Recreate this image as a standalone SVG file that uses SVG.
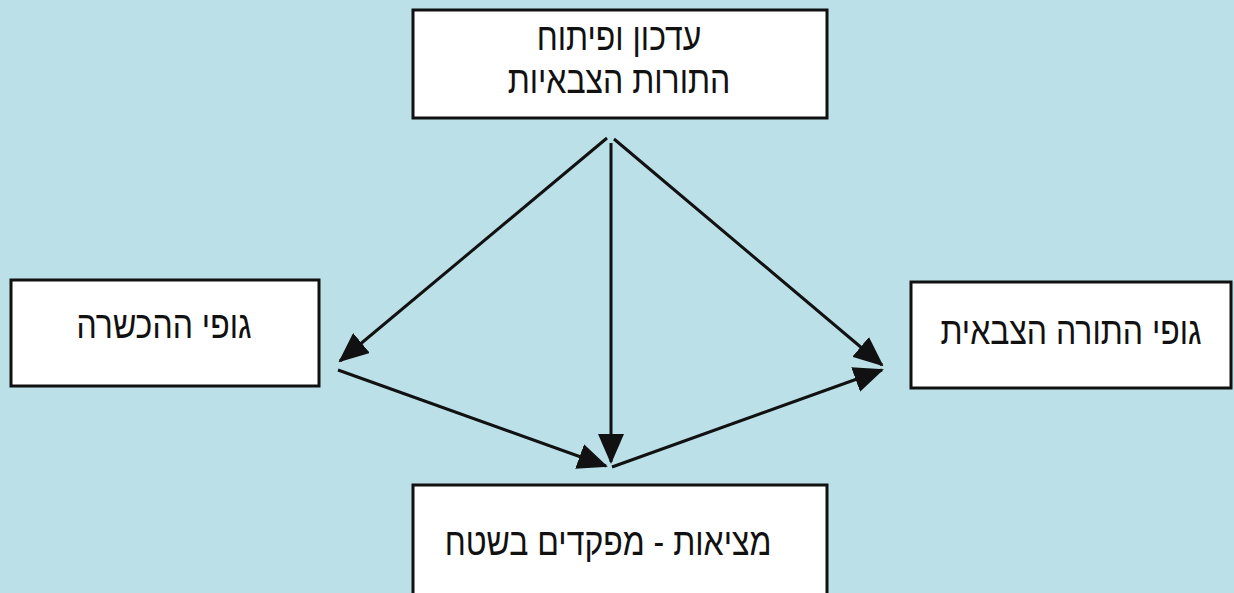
<svg xmlns="http://www.w3.org/2000/svg" width="1234" height="593" viewBox="0 0 1234 593">
<style>
.box{fill:#ffffff;stroke:#111;stroke-width:3}
.t{font-family:"Liberation Sans","DejaVu Sans",sans-serif;font-size:32px;fill:#111;text-anchor:middle}
.c{stroke:#111;stroke-width:3;fill:none;marker-end:url(#ah)}
</style>
<defs>
<marker id="ah" markerUnits="userSpaceOnUse" markerWidth="30" markerHeight="26" viewBox="0 0 30 26" refX="28" refY="13" orient="auto">
<path d="M0,0 L30,13 L0,26 Z" fill="#111"/>
</marker>
</defs>
<rect width="1234" height="593" fill="#bce0e8"/>
<g id="connectors">
<line class="c" x1="607" y1="138" x2="340" y2="361"/>
<line class="c" x1="611" y1="143" x2="611" y2="462"/>
<line class="c" x1="614" y1="139" x2="882" y2="365"/>
<line class="c" x1="338" y1="370" x2="606" y2="466"/>
<line class="c" x1="612" y1="467" x2="882" y2="370"/>
</g>
<g id="node-top">
<rect class="box" x="413" y="10" width="414" height="108"/>
<text class="t" transform="translate(619,50) scale(1,1.2)" direction="rtl">עדכון ופיתוח</text>
<text class="t" transform="translate(619,93) scale(1,1.2)" direction="rtl">התורות הצבאיות</text>
</g>
<g id="node-left">
<rect class="box" x="11" y="280" width="308" height="106"/>
<text class="t" transform="translate(164,338) scale(1,1.2)" direction="rtl">גופי ההכשרה</text>
</g>
<g id="node-right">
<rect class="box" x="911" y="282" width="320" height="106"/>
<text class="t" transform="translate(1071,344) scale(1,1.2)" direction="rtl">גופי התורה הצבאית</text>
</g>
<g id="node-bottom">
<rect class="box" x="413" y="485" width="414" height="115"/>
<text class="t" transform="translate(608,555) scale(1,1.2)" direction="rtl">מציאות - מפקדים בשטח</text>
</g>
</svg>
